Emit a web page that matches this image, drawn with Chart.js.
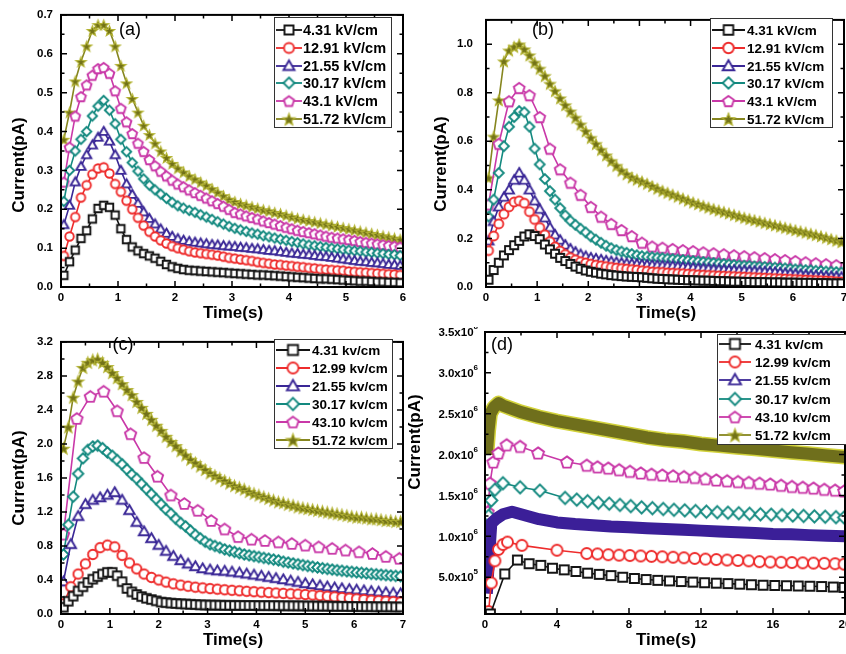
<!DOCTYPE html>
<html>
<head>
<meta charset="utf-8">
<title>Current vs time</title>
<script src="https://cdn.jsdelivr.net/npm/chart.js@4.4.1/dist/chart.umd.min.js"></script>
<style>
html, body { margin: 0; padding: 0; background: #fff; }
#wrap { position: relative; width: 846px; height: 654px; overflow: hidden; background: #fff; }
canvas { position: absolute; }
</style>
</head>
<body>
<div id="wrap">
  <canvas id="chA" width="423" height="327" style="left:0;top:0;width:423px;height:327px"></canvas>
  <canvas id="chB" width="423" height="327" style="left:423px;top:0;width:423px;height:327px"></canvas>
  <canvas id="chC" width="423" height="327" style="left:0;top:327px;width:423px;height:327px"></canvas>
  <canvas id="chD" width="446" height="327" style="left:400px;top:327px;width:446px;height:327px"></canvas>
</div>
<script>
'use strict';

// ---- sample times (s) ----
var time6 = [0.05,0.15,0.25,0.35,0.45,0.55,0.65,0.75,0.85,0.95,1.05,1.15,1.25,1.35,1.45,1.55,1.65,1.75,1.85,1.95,
  2.05,2.15,2.25,2.35,2.45,2.55,2.65,2.75,2.85,2.95,3.05,3.15,3.25,3.35,3.45,3.55,3.65,3.75,3.85,3.95,
  4.05,4.15,4.25,4.35,4.45,4.55,4.65,4.75,4.85,4.95,5.05,5.15,5.25,5.35,5.45,5.55,5.65,5.75,5.85,5.95];
var time7 = [0.05,0.15,0.25,0.35,0.45,0.55,0.65,0.75,0.85,0.95,1.05,1.15,1.25,1.35,1.45,1.55,1.65,1.75,1.85,1.95,
  2.05,2.15,2.25,2.35,2.45,2.55,2.65,2.75,2.85,2.95,3.05,3.15,3.25,3.35,3.45,3.55,3.65,3.75,3.85,3.95,
  4.05,4.15,4.25,4.35,4.45,4.55,4.65,4.75,4.85,4.95,5.05,5.15,5.25,5.35,5.45,5.55,5.65,5.75,5.85,5.95,
  6.05,6.15,6.25,6.35,6.45,6.55,6.65,6.75,6.85,6.95];
var timeBpink = [0.05,0.25,0.45,0.65,0.85,1.05,1.25,1.45,1.65,1.85,2.05,2.25,2.45,2.65,2.85,3.05,3.25,3.45,3.65,3.85,
  4.05,4.25,4.45,4.65,4.85,5.05,5.25,5.45,5.65,5.85,6.05,6.25,6.45,6.65,6.85];
var timeCs = [0.05,0.2,0.35,0.5,0.65,0.8,0.95,1.1,1.25,1.4,1.55,1.7,1.85,2,2.15,2.3,2.45,2.6,2.75,2.9,
  3.05,3.2,3.35,3.5,3.65,3.8,3.95,4.1,4.25,4.4,4.55,4.7,4.85,5,5.15,5.3,5.45,5.6,5.75,5.9,
  6.05,6.2,6.35,6.5,6.65,6.8,6.95];
var timeCpink = [0.05,0.325,0.6,0.875,1.15,1.425,1.7,1.975,2.25,2.525,2.8,3.075,3.35,3.625,3.9,4.175,4.45,4.725,5,
  5.275,5.55,5.825,6.1,6.375,6.65,6.925];

// ---- (a) current, pA ----
var curA_4p31 = [0.03,0.065,0.095,0.125,0.145,0.175,0.202,0.21,0.205,0.185,0.15,0.122,0.103,0.093,0.086,0.08,0.074,0.066,0.058,0.052,
  0.048,0.045,0.043,0.042,0.041,0.04,0.039,0.038,0.037,0.036,0.035,0.034,0.033,0.032,0.031,0.031,0.03,0.029,0.028,0.027,
  0.026,0.025,0.024,0.023,0.022,0.021,0.021,0.02,0.019,0.018,0.017,0.016,0.015,0.015,0.014,0.013,0.013,0.012,0.012,0.011];
var curA_12p91 = [0.08,0.13,0.18,0.23,0.262,0.29,0.305,0.308,0.292,0.265,0.245,0.222,0.2,0.178,0.158,0.142,0.13,0.12,0.112,0.105,
  0.1,0.096,0.092,0.089,0.087,0.085,0.083,0.081,0.078,0.075,0.073,0.071,0.069,0.067,0.064,0.062,0.06,0.058,0.057,0.055,
  0.054,0.052,0.051,0.049,0.048,0.046,0.045,0.044,0.043,0.042,0.04,0.039,0.038,0.037,0.036,0.035,0.034,0.033,0.032,0.031];
var curA_21p55 = [0.16,0.21,0.27,0.31,0.34,0.365,0.385,0.4,0.375,0.34,0.3,0.265,0.238,0.215,0.193,0.176,0.162,0.149,0.138,0.13,
  0.124,0.12,0.117,0.115,0.113,0.111,0.109,0.108,0.106,0.105,0.104,0.102,0.101,0.099,0.098,0.096,0.094,0.093,0.091,0.089,
  0.087,0.086,0.084,0.083,0.081,0.079,0.078,0.076,0.074,0.072,0.07,0.068,0.066,0.065,0.063,0.062,0.06,0.058,0.057,0.055];
var curA_30p17 = [0.22,0.3,0.35,0.38,0.4,0.44,0.465,0.48,0.455,0.42,0.38,0.348,0.32,0.298,0.278,0.262,0.25,0.239,0.228,0.218,
  0.209,0.203,0.197,0.192,0.186,0.18,0.174,0.168,0.162,0.156,0.151,0.147,0.143,0.139,0.136,0.132,0.129,0.126,0.123,0.12,
  0.117,0.114,0.111,0.108,0.106,0.104,0.102,0.1,0.098,0.096,0.095,0.093,0.092,0.09,0.089,0.087,0.086,0.084,0.083,0.081];
var curA_43p1 = [0.27,0.36,0.44,0.49,0.52,0.545,0.562,0.565,0.55,0.505,0.46,0.425,0.395,0.37,0.349,0.328,0.312,0.298,0.286,0.275,
  0.265,0.258,0.25,0.243,0.236,0.229,0.222,0.215,0.208,0.2,0.192,0.188,0.183,0.179,0.175,0.17,0.166,0.162,0.158,0.154,
  0.15,0.146,0.143,0.14,0.137,0.134,0.131,0.128,0.126,0.124,0.122,0.12,0.117,0.115,0.113,0.111,0.109,0.107,0.105,0.103];
var curA_51p72 = [0.38,0.45,0.53,0.58,0.62,0.66,0.675,0.675,0.66,0.62,0.57,0.525,0.485,0.45,0.416,0.392,0.37,0.35,0.333,0.318,
  0.306,0.296,0.286,0.278,0.27,0.262,0.253,0.244,0.235,0.226,0.22,0.215,0.211,0.207,0.203,0.199,0.196,0.192,0.189,0.185,
  0.181,0.177,0.174,0.171,0.168,0.165,0.162,0.159,0.156,0.153,0.15,0.147,0.144,0.141,0.138,0.135,0.132,0.129,0.126,0.123];

// ---- (b) current, pA ----
var curB_4p31 = [0.03,0.07,0.1,0.13,0.152,0.172,0.19,0.208,0.217,0.21,0.197,0.175,0.155,0.137,0.12,0.107,0.095,0.084,0.075,0.068,
  0.063,0.059,0.055,0.052,0.049,0.047,0.045,0.043,0.042,0.041,0.04,0.038,0.036,0.034,0.033,0.032,0.031,0.03,0.029,0.028,
  0.028,0.027,0.026,0.026,0.025,0.024,0.024,0.023,0.022,0.022,0.021,0.021,0.02,0.02,0.02,0.019,0.019,0.019,0.018,0.018,
  0.018,0.017,0.017,0.017,0.016,0.016,0.016,0.015,0.015,0.015];
var curB_12p91 = [0.15,0.21,0.26,0.3,0.33,0.35,0.355,0.345,0.31,0.278,0.245,0.215,0.187,0.165,0.148,0.134,0.121,0.112,0.104,0.099,
  0.094,0.09,0.087,0.084,0.081,0.078,0.076,0.074,0.072,0.07,0.067,0.065,0.062,0.061,0.06,0.058,0.057,0.056,0.055,0.053,
  0.052,0.05,0.049,0.048,0.047,0.046,0.045,0.044,0.043,0.042,0.041,0.04,0.039,0.038,0.037,0.036,0.035,0.034,0.033,0.032,
  0.031,0.03,0.029,0.028,0.027,0.026,0.025,0.024,0.022,0.021];
var curB_21p55 = [0.19,0.27,0.33,0.37,0.4,0.44,0.47,0.44,0.4,0.355,0.32,0.285,0.245,0.215,0.193,0.173,0.157,0.144,0.134,0.126,
  0.12,0.116,0.112,0.108,0.105,0.102,0.099,0.097,0.095,0.094,0.092,0.091,0.09,0.089,0.088,0.087,0.086,0.084,0.082,0.081,
  0.079,0.077,0.076,0.075,0.073,0.072,0.071,0.07,0.069,0.068,0.067,0.066,0.065,0.064,0.063,0.062,0.06,0.058,0.056,0.055,
  0.053,0.051,0.049,0.048,0.047,0.046,0.044,0.043,0.042,0.041];
var curB_30p17 = [0.29,0.36,0.47,0.58,0.66,0.7,0.725,0.72,0.66,0.57,0.505,0.445,0.395,0.36,0.325,0.295,0.273,0.256,0.24,0.225,
  0.208,0.195,0.182,0.17,0.16,0.152,0.146,0.141,0.136,0.131,0.127,0.125,0.123,0.121,0.119,0.117,0.115,0.113,0.111,0.109,
  0.107,0.105,0.103,0.101,0.099,0.097,0.095,0.093,0.091,0.089,0.088,0.087,0.085,0.084,0.083,0.081,0.08,0.078,0.077,0.075,
  0.073,0.072,0.07,0.069,0.067,0.066,0.064,0.063,0.062,0.06];
var curB_43p1 = [0.34,0.59,0.765,0.82,0.79,0.7,0.57,0.485,0.43,0.38,0.33,0.29,0.26,0.235,0.21,0.183,0.167,0.162,0.157,0.152,
  0.148,0.143,0.139,0.135,0.131,0.127,0.123,0.119,0.115,0.111,0.107,0.102,0.098,0.094,0.09];
var curB_51p72 = [0.45,0.62,0.77,0.93,0.975,0.99,1.0,0.98,0.955,0.925,0.9,0.87,0.838,0.808,0.778,0.75,0.724,0.698,0.67,0.642,
  0.615,0.59,0.566,0.543,0.52,0.5,0.48,0.465,0.452,0.443,0.435,0.426,0.416,0.406,0.397,0.389,0.381,0.373,0.365,0.357,
  0.349,0.342,0.335,0.328,0.322,0.316,0.31,0.304,0.298,0.292,0.286,0.281,0.276,0.271,0.265,0.26,0.255,0.25,0.245,0.24,
  0.235,0.23,0.225,0.22,0.215,0.21,0.204,0.198,0.192,0.186];

// ---- (c) current, pA ----
var curC_4p31 = [0.08,0.15,0.21,0.27,0.32,0.37,0.41,0.44,0.47,0.49,0.49,0.45,0.38,0.3,0.26,0.23,0.205,0.185,0.17,0.155,
  0.14,0.134,0.128,0.124,0.12,0.117,0.114,0.111,0.108,0.106,0.105,0.104,0.103,0.102,0.102,0.101,0.101,0.1,0.1,0.1,
  0.099,0.099,0.099,0.098,0.098,0.097,0.097,0.096,0.096,0.095,0.094,0.094,0.093,0.092,0.092,0.091,0.09,0.09,0.089,0.088,
  0.088,0.087,0.086,0.086,0.085,0.085,0.084,0.084,0.083,0.083];
var curC_12p99 = [0.12,0.32,0.47,0.59,0.7,0.78,0.81,0.79,0.69,0.6,0.53,0.47,0.43,0.4,0.375,0.355,0.34,0.327,0.316,0.307,
  0.299,0.292,0.285,0.279,0.273,0.267,0.262,0.257,0.252,0.247,0.243,0.238,0.234,0.229,0.223,0.216,0.209,0.202,0.194,0.186,
  0.178,0.17,0.163,0.157,0.151,0.146,0.141];
var curC_21p55 = [0.38,0.82,1.15,1.29,1.34,1.37,1.4,1.43,1.34,1.22,1.08,0.97,0.89,0.81,0.74,0.68,0.63,0.59,0.56,0.535,
  0.52,0.51,0.505,0.495,0.485,0.472,0.46,0.447,0.433,0.42,0.405,0.39,0.375,0.36,0.347,0.334,0.321,0.31,0.3,0.291,
  0.283,0.275,0.267,0.26,0.253,0.246,0.24];
var curC_30p17 = [0.7,1.05,1.38,1.65,1.83,1.93,1.97,1.98,1.95,1.9,1.86,1.81,1.76,1.7,1.64,1.59,1.53,1.47,1.41,1.35,
  1.29,1.23,1.18,1.12,1.07,1.03,0.98,0.93,0.89,0.85,0.82,0.8,0.78,0.76,0.745,0.73,0.715,0.7,0.69,0.68,
  0.67,0.66,0.65,0.64,0.63,0.615,0.605,0.595,0.585,0.575,0.565,0.556,0.547,0.538,0.53,0.522,0.515,0.508,0.502,0.496,
  0.49,0.484,0.478,0.472,0.467,0.462,0.457,0.452,0.448,0.444];
var curC_43p10 = [0.94,2.3,2.56,2.62,2.39,2.12,1.84,1.62,1.4,1.3,1.22,1.1,1.0,0.91,0.88,0.865,0.848,0.83,0.81,0.79,
  0.772,0.752,0.732,0.712,0.678,0.655];
var curC_51p72 = [1.95,2.2,2.55,2.74,2.9,2.96,2.99,3.0,2.96,2.91,2.84,2.78,2.71,2.64,2.58,2.5,2.43,2.36,2.29,2.22,
  2.16,2.09,2.03,1.98,1.92,1.87,1.82,1.78,1.74,1.7,1.66,1.63,1.6,1.57,1.54,1.51,1.49,1.47,1.44,1.42,
  1.4,1.38,1.36,1.34,1.32,1.31,1.29,1.28,1.26,1.25,1.24,1.23,1.22,1.21,1.2,1.19,1.18,1.17,1.16,1.15,
  1.14,1.14,1.13,1.12,1.12,1.11,1.1,1.1,1.09,1.09];

// ---- (d) times (s) and current, pA ----
var timeD_4p31 = [0.3,1.1,1.8,2.45,3.1,3.75,4.4,5.05,5.7,6.35,7,7.65,8.3,8.95,9.6,10.25,10.9,11.55,12.2,12.85,
  13.5,14.15,14.8,15.45,16.1,16.75,17.4,18.05,18.7,19.35,19.95];
var curD_4p31 = [50000,540000,710000,665000,645000,610000,590000,570000,550000,535000,520000,500000,485000,472000,462000,
  455000,447000,440000,433000,427000,422000,415000,408000,402000,399000,396000,393000,390000,386000,380000,375000];
var timeD_12p99 = [0.2,0.35,0.55,0.75,1,1.25,2.05,4,5.65,6.25,6.85,7.45,8.05,8.65,9.25,9.85,10.45,11.05,11.65,12.25,
  12.85,13.45,14.05,14.65,15.25,15.85,16.45,17.05,17.65,18.25,18.85,19.45,19.95];
var curD_12p99 = [80000,430000,700000,840000,900000,930000,890000,830000,790000,785000,775000,770000,765000,760000,755000,
  750000,745000,738000,730000,722000,716000,710000,705000,700000,690000,686000,683000,680000,676000,673000,670000,665000,660000];
var timeD_21p55 = [0.1,0.35,0.65,1,1.5,2,2.5,3,4,5,6,7,8,9,10,11,12,13,14,15,16,17,18,19,20];
var curD_21p55 = [300000,1160000,1220000,1270000,1300000,1270000,1240000,1210000,1170000,1150000,1135000,1120000,1110000,
  1100000,1090000,1080000,1070000,1060000,1050000,1040000,1030000,1025000,1015000,1008000,1000000];
var timeD_30p17 = [0.1,0.2,0.35,0.55,1,1.95,3.05,4.45,5.1,5.7,6.3,6.9,7.5,8.1,8.7,9.3,9.9,10.5,11.1,11.7,
  12.3,12.9,13.5,14.1,14.7,15.3,15.9,16.5,17.1,17.7,18.3,18.9,19.5,19.95];
var curD_30p17 = [600000,1250000,1440000,1570000,1650000,1600000,1560000,1470000,1450000,1430000,1410000,1400000,1385000,
  1370000,1355000,1345000,1335000,1325000,1318000,1310000,1302000,1296000,1290000,1283000,1276000,1270000,1265000,1260000,
  1255000,1250000,1245000,1240000,1235000,1230000];
var timeD_43p10 = [0.15,0.28,0.46,0.74,1.2,1.95,2.95,4.55,5.65,6.25,6.85,7.45,8.05,8.65,9.25,9.85,10.45,11.05,11.65,12.25,
  12.85,13.45,14.05,14.65,15.25,15.85,16.45,17.05,17.65,18.25,18.85,19.45,19.95];
var curD_43p10 = [1300000,1650000,1910000,2020000,2120000,2100000,2020000,1910000,1870000,1850000,1835000,1815000,1795000,
  1775000,1760000,1750000,1740000,1730000,1720000,1705000,1690000,1680000,1670000,1660000,1650000,1640000,1625000,1610000,
  1600000,1590000,1575000,1565000,1555000];
var timeD_51p72 = [0.1,0.2,0.3,0.5,0.75,1,1.5,2,3,4,5,6,7,8,9,10,11,12,13,14,15,16,17,18,19,20];
var curD_51p72 = [2000000,2300000,2500000,2580000,2630000,2600000,2560000,2520000,2460000,2410000,2370000,2330000,2290000,
  2250000,2210000,2180000,2160000,2130000,2110000,2090000,2070000,2050000,2030000,2010000,1990000,1970000];

// legend text
var labelsAB = ['4.31 kV/cm', '12.91 kV/cm', '21.55 kV/cm', '30.17 kV/cm', '43.1 kV/cm', '51.72 kV/cm'];
var labelsCD = ['4.31 kv/cm', '12.99 kv/cm', '21.55 kv/cm', '30.17 kv/cm', '43.10 kv/cm', '51.72 kv/cm'];

// y tick labels of (d), written as mantissa x 10^exp
var tickD_y = [500000, 1000000, 1500000, 2000000, 2500000, 3000000, 3500000];
var tickD_mant = ['5.0', '1.0', '1.5', '2.0', '2.5', '3.0', '3.5'];
var tickD_exp = ['5', '6', '6', '6', '6', '6', '6'];

var FONT = '"Liberation Sans", Arial, Helvetica, sans-serif';

var C_BLACK = '#141414', C_RED = '#ee2c2c', C_BLUE = '#3a2796', C_TEAL = '#13897f', C_PINK = '#c938a8', C_OLIVE = '#86861f';
var markStyles = [
  { shape: 'square', color: C_BLACK },
  { shape: 'circle', color: C_RED },
  { shape: 'triangle', color: C_BLUE },
  { shape: 'diamond', color: C_TEAL },
  { shape: 'pentagon', color: C_PINK },
  { shape: 'star', color: C_OLIVE, fill: '#727218', edge: '#b4b434' }
];

// small canvas used as a point symbol
function makeMarker(st, size) {
  var w = Math.ceil(size * 1.4 + 5);
  var c = document.createElement('canvas');
  c.width = w; c.height = w;
  var g = c.getContext('2d');
  var m = w / 2, r = size / 2, k, ang;
  g.lineWidth = 1.9;
  g.strokeStyle = st.color;
  g.fillStyle = '#fff';
  g.beginPath();
  if (st.shape === 'square') {
    g.rect(m - r + 0.5, m - r + 0.5, size - 1, size - 1);
  } else if (st.shape === 'circle') {
    g.arc(m, m, r, 0, Math.PI * 2);
  } else if (st.shape === 'triangle') {
    g.moveTo(m, m - r * 1.1);
    g.lineTo(m + r * 1.1, m + r * 0.8);
    g.lineTo(m - r * 1.1, m + r * 0.8);
    g.closePath();
  } else if (st.shape === 'diamond') {
    g.moveTo(m, m - r * 1.1);
    g.lineTo(m + r * 1.1, m);
    g.lineTo(m, m + r * 1.1);
    g.lineTo(m - r * 1.1, m);
    g.closePath();
  } else if (st.shape === 'pentagon') {
    for (k = 0; k < 5; k++) {
      ang = -Math.PI / 2 + k * 2 * Math.PI / 5;
      var px = m + r * 1.08 * Math.cos(ang), py = m + 0.6 + r * 1.08 * Math.sin(ang);
      if (k) g.lineTo(px, py); else g.moveTo(px, py);
    }
    g.closePath();
  } else if (st.shape === 'star') {
    for (k = 0; k < 10; k++) {
      ang = -Math.PI / 2 + k * Math.PI / 5;
      var rr = k % 2 ? r * 0.55 : r * 1.3;
      var sx = m + rr * Math.cos(ang), sy = m + 0.8 + rr * Math.sin(ang);
      if (k) g.lineTo(sx, sy); else g.moveTo(sx, sy);
    }
    g.closePath();
    g.fillStyle = st.fill;
    g.strokeStyle = st.edge;
    g.lineWidth = 1.1;
  }
  g.fill();
  g.stroke();
  return c;
}

function pts(xs, ys) {
  return xs.map(function (x, i) { return { x: x, y: ys[i] }; });
}

function series(xs, ys, st, size, ord) {
  return {
    data: pts(xs, ys),
    borderColor: st.color,
    borderWidth: 1.6,
    pointStyle: makeMarker(st, size),
    pointRadius: 4,
    pointHoverRadius: 4,
    fill: false,
    tension: 0,
    order: ord
  };
}

// frame, inward ticks, tick labels, titles, panel letter and boxed legend
function decoPlugin(cfg) {
  return {
    id: 'deco',
    afterDatasetsDraw: function (chart) {
      var ctx = chart.ctx, a = chart.chartArea, sx = chart.scales.x, sy = chart.scales.y;
      ctx.save();

      ctx.strokeStyle = '#000';
      ctx.lineWidth = 1.5;
      ctx.fillStyle = '#000';
      ctx.font = 'bold 11.5px ' + FONT;
      ctx.textAlign = 'center';
      ctx.textBaseline = 'middle';
      eachTick(sx.min, sx.max, cfg.xMinor, cfg.xMajor, function (v, major) {
        var p = sx.getPixelForValue(v), len = major ? 6 : 3.5;
        ctx.beginPath();
        ctx.moveTo(p, a.bottom); ctx.lineTo(p, a.bottom - len);
        ctx.moveTo(p, a.top); ctx.lineTo(p, a.top + len);
        ctx.stroke();
        if (major) ctx.fillText(String(Math.round(v)), p, a.bottom + 11);
      });
      eachTick(sy.min, sy.max, cfg.yMinor, cfg.yMajor, function (v, major) {
        var p = sy.getPixelForValue(v), len = major ? 6 : 3.5;
        ctx.beginPath();
        ctx.moveTo(a.left, p); ctx.lineTo(a.left + len, p);
        ctx.moveTo(a.right, p); ctx.lineTo(a.right - len, p);
        ctx.stroke();
      });

      ctx.lineWidth = 2;
      ctx.strokeRect(a.left, a.top, a.right - a.left, a.bottom - a.top);

      if (cfg.sciY) {
        ctx.textAlign = 'right';
        tickD_y.forEach(function (v, i) {
          var p = sy.getPixelForValue(v);
          var rx = a.left - 7;
          ctx.font = 'bold 8px ' + FONT;
          var ew = ctx.measureText(tickD_exp[i]).width;
          ctx.fillText(tickD_exp[i], rx, p - 5);
          ctx.font = 'bold 11.5px ' + FONT;
          ctx.fillText(tickD_mant[i] + 'x10', rx - ew, p + 1);
        });
      }

      // axis titles
      ctx.font = 'bold 17px ' + FONT;
      ctx.textAlign = 'center';
      ctx.textBaseline = 'middle';
      ctx.fillText('Time(s)', cfg.xTitle[0], cfg.xTitle[1]);
      ctx.save();
      ctx.translate(cfg.yTitle[0], cfg.yTitle[1]);
      ctx.rotate(-Math.PI / 2);
      ctx.fillText('Current(pA)', 0, 0);
      ctx.restore();

      ctx.font = '18px ' + FONT;
      ctx.fillText(cfg.letter, cfg.letterAt[0], cfg.letterAt[1]);

      // legend
      var L = cfg.legend;
      ctx.fillStyle = '#fff';
      ctx.fillRect(L.box[0], L.box[1], L.box[2] - L.box[0], L.box[3] - L.box[1]);
      ctx.strokeStyle = '#333';
      ctx.lineWidth = 1;
      ctx.strokeRect(L.box[0] + 0.5, L.box[1] + 0.5, L.box[2] - L.box[0], L.box[3] - L.box[1]);
      ctx.font = 'bold ' + L.font + 'px ' + FONT;
      ctx.textAlign = 'left';
      ctx.textBaseline = 'middle';
      L.labels.forEach(function (txt, i) {
        var y = L.rows[i], st = markStyles[i];
        ctx.strokeStyle = st.color;
        ctx.lineWidth = 1.8;
        ctx.beginPath();
        ctx.moveTo(L.line[0], y); ctx.lineTo(L.line[1], y);
        ctx.stroke();
        var img = makeMarker(st, cfg.size + 1.5);
        ctx.drawImage(img, (L.line[0] + L.line[1]) / 2 - img.width / 2, y - img.height / 2);
        ctx.fillStyle = '#000';
        ctx.fillText(txt, L.textX, y + 1);
      });
      ctx.restore();
    }
  };
}

function eachTick(min, max, minor, major, fn) {
  var n = Math.round(max / minor);
  for (var i = 0; i <= n; i++) {
    var v = i * minor;
    if (v < min - 1e-9 || v > max + 1e-9) continue;
    fn(v, Math.abs(v / major - Math.round(v / major)) < 1e-6);
  }
}

function options(cfg) {
  var tickFont = { family: FONT, size: 11.5, weight: 'bold' };
  return {
    responsive: false,
    animation: false,
    events: [],
    layout: { autoPadding: false, padding: { left: 0, top: cfg.top, right: cfg.right, bottom: 0 } },
    plugins: { legend: { display: false }, tooltip: { enabled: false } },
    scales: {
      x: {
        type: 'linear', min: cfg.xMin, max: cfg.xMax,
        grid: { display: false, drawTicks: false }, border: { display: false },
        ticks: { display: false, stepSize: cfg.xMajor },
        afterFit: function (s) { s.height = 40; }
      },
      y: {
        type: 'linear', min: cfg.yMin, max: cfg.yMax,
        grid: { display: false, drawTicks: false }, border: { display: false },
        ticks: {
          display: !cfg.sciY, stepSize: cfg.yMajor, color: '#000', font: tickFont, padding: cfg.yPad, includeBounds: false,
          callback: function (v) { return v.toFixed(1); }
        },
        afterFit: function (s) { s.width = cfg.yW; }
      }
    }
  };
}

function panel(id, datasets, cfg) {
  new Chart(document.getElementById(id), {
    type: 'line',
    data: { datasets: datasets },
    options: options(cfg),
    plugins: [decoPlugin(cfg)]
  });
}

// (a)
var cfgA = {
  xMin: 0, xMax: 6, xMajor: 1, xMinor: 0.5, yMin: 0, yMax: 0.7, yMajor: 0.1, yMinor: 0.05,
  top: 13, right: 20, yW: 61, yPad: 8, size: 8.5,
  xTitle: [233, 313], yTitle: [19, 165], letter: '(a)', letterAt: [130, 30],
  legend: { box: [274, 17, 391, 127], rows: [30, 48, 66, 83, 101, 119], line: [276, 302], textX: 303, font: 14.5, labels: labelsAB }
};
panel('chA', [
  series(time6, curA_4p31, markStyles[0], cfgA.size, 1),
  series(time6, curA_12p91, markStyles[1], cfgA.size, 2),
  series(time6, curA_21p55, markStyles[2], cfgA.size, 3),
  series(time6, curA_30p17, markStyles[3], cfgA.size, 4),
  series(time6, curA_43p1, markStyles[4], 9.5, 5),
  series(time6, curA_51p72, markStyles[5], cfgA.size, 6)
], cfgA);

// (b)
var cfgB = {
  xMin: 0, xMax: 7, xMajor: 1, xMinor: 0.5, yMin: 0, yMax: 1.1, yMajor: 0.2, yMinor: 0.1,
  top: 13, right: 2, yW: 63, yPad: 13, size: 9,
  xTitle: [243, 313], yTitle: [18, 164], letter: '(b)', letterAt: [120, 30],
  legend: { box: [287, 18, 409, 127], rows: [30, 48, 66, 83, 101, 119], line: [289, 322], textX: 324, font: 13.5, labels: labelsAB }
};
panel('chB', [
  series(time7, curB_4p31, markStyles[0], cfgB.size, 1),
  series(time7, curB_12p91, markStyles[1], cfgB.size, 2),
  series(time7, curB_21p55, markStyles[2], cfgB.size, 3),
  series(time7, curB_30p17, markStyles[3], cfgB.size, 4),
  series(timeBpink, curB_43p1, markStyles[4], 10.5, 5),
  series(time7, curB_51p72, markStyles[5], cfgB.size, 6)
], cfgB);

// (c)
var cfgC = {
  xMin: 0, xMax: 7, xMajor: 1, xMinor: 0.5, yMin: 0, yMax: 3.2, yMajor: 0.4, yMinor: 0.2,
  top: 6, right: 20, yW: 61, yPad: 8, size: 9.5,
  xTitle: [233, 313], yTitle: [19, 151], letter: '(c)', letterAt: [123, 18],
  legend: { box: [274, 12, 392, 121], rows: [23, 41, 59, 77, 95, 113], line: [276, 310], textX: 312, font: 13.5, labels: labelsCD }
};
panel('chC', [
  series(time7, curC_4p31, markStyles[0], cfgC.size, 1),
  series(timeCs, curC_12p99, markStyles[1], cfgC.size, 2),
  series(timeCs, curC_21p55, markStyles[2], cfgC.size, 3),
  series(time7, curC_30p17, markStyles[3], cfgC.size, 4),
  series(timeCpink, curC_43p10, markStyles[4], 11, 5),
  series(time7, curC_51p72, markStyles[5], cfgC.size, 6)
], cfgC);

// (d): the two densest curves are drawn as thick bands
var cfgD = {
  xMin: 0, xMax: 20, xMajor: 4, xMinor: 2, yMin: 50000, yMax: 3500000, yMajor: 500000, yMinor: 250000,
  top: 5, right: 1, yW: 85, yPad: 7, size: 9.5, sciY: true,
  xTitle: [266, 313], yTitle: [15, 115], letter: '(d)', letterAt: [102, 18],
  legend: { box: [317, 7, 452, 117], rows: [17, 35, 53, 72, 90, 108], line: [319, 351], textX: 355, font: 13.5, labels: labelsCD }
};
panel('chD', [
  series(timeD_4p31, curD_4p31, markStyles[0], 10, 1),
  series(timeD_12p99, curD_12p99, markStyles[1], 11, 2),
  { data: pts(timeD_21p55, curD_21p55), borderColor: '#3b1f98', borderWidth: 12, borderJoinStyle: 'round', pointRadius: 0, tension: 0, order: 3 },
  series(timeD_30p17, curD_30p17, markStyles[3], 11, 4),
  series(timeD_43p10, curD_43p10, markStyles[4], 11.5, 5),
  { data: pts(timeD_51p72, curD_51p72), borderColor: '#6f6f1c', borderWidth: 12, borderJoinStyle: 'round', pointRadius: 0, tension: 0, order: 6 },
  { data: pts(timeD_51p72, curD_51p72), borderColor: '#d2d23a', borderWidth: 15, borderJoinStyle: 'round', pointRadius: 0, tension: 0, order: 7 }
], cfgD);
</script>
</body>
</html>
